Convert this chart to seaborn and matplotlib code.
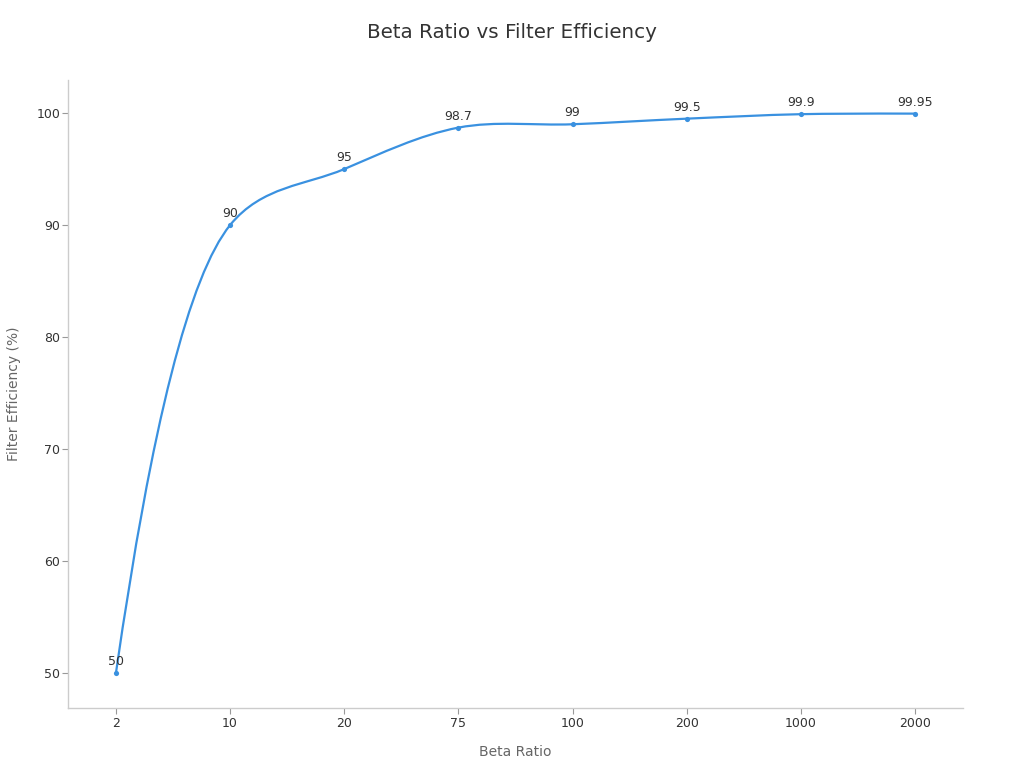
import numpy as np
import pandas as pd
import matplotlib
matplotlib.use("Agg")
import matplotlib.pyplot as plt
import seaborn as sns
from matplotlib.path import Path
from matplotlib.patches import PathPatch

categories = ["2", "10", "20", "75", "100", "200", "1000", "2000"]
efficiency = [50, 90, 95, 98.7, 99, 99.5, 99.9, 99.95]
labels = ["50", "90", "95", "98.7", "99", "99.5", "99.9", "99.95"]
y_ticks = [50, 60, 70, 80, 90, 100]

sns.set_theme(style="white")
plt.rcParams["font.family"] = ["DejaVu Sans"]

LINE = "#3a91e0"
fig = plt.figure(figsize=(10.24, 7.68), dpi=100)
ax = fig.add_axes([0.0664, 0.0781, 0.874, 0.8177])

df = pd.DataFrame({"x": np.arange(len(categories)), "y": efficiency})
xlim = (-0.42, len(categories) - 1 + 0.42)
ylim = (46.875, 102.95)
ax.set_xlim(*xlim)
ax.set_ylim(*ylim)

# smooth curve: centripetal Catmull-Rom style spline computed in pixel space
W = 0.874 * 1024
H = 0.8177 * 768
sx = W / (xlim[1] - xlim[0])
sy = H / (ylim[1] - ylim[0])
pts = np.column_stack([df["x"].to_numpy() * sx, df["y"].to_numpy() * sy])


def tangent(p0, p1, p2, s=1.0):
    d1 = p0 - p1
    d2 = p2 - p1
    d1a = np.hypot(*d1) ** 0.5
    d2a = np.hypot(*d2) ** 0.5
    num = (d2a * d2a * d1 - d1a * d1a * d2) * s
    den1 = 3 * d2a * (d1a + d2a)
    den2 = 3 * d1a * (d1a + d2a)
    return p1 + num / den1, p1 - num / den2


n = len(pts)
tans = [tangent(pts[i - 1], pts[i], pts[i + 1]) for i in range(1, n - 1)]
verts = [tuple(pts[0])]
codes = [Path.MOVETO]
verts += [tuple(tans[0][0]), tuple(pts[1])]
codes += [Path.CURVE3] * 2
for i in range(2, n - 1):
    verts += [tuple(tans[i - 2][1]), tuple(tans[i - 1][0]), tuple(pts[i])]
    codes += [Path.CURVE4] * 3
verts += [tuple(tans[n - 3][1]), tuple(pts[n - 1])]
codes += [Path.CURVE3] * 2
verts = [(a / sx, b / sy) for a, b in verts]
ax.add_patch(PathPatch(Path(verts, codes), facecolor="none", edgecolor=LINE,
                       linewidth=1.6, capstyle="round", joinstyle="round", zorder=2))

sns.scatterplot(data=df, x="x", y="y", ax=ax, color=LINE, s=14,
                edgecolor=LINE, linewidth=0, zorder=3, legend=False)

for xi, yi, lab in zip(df["x"], df["y"], labels):
    ax.annotate(lab, (xi, yi), xytext=(0, 3.5), textcoords="offset points",
                ha="center", va="bottom", fontsize=9, color="#333333")

ax.set_xticks(df["x"])
ax.set_xticklabels(categories)
ax.set_yticks(y_ticks)
ax.tick_params(axis="both", bottom=True, left=True, labelsize=9,
               labelcolor="#333333", color="#999999",
               length=4, width=0.8, direction="out")
ax.tick_params(axis="x", pad=2.5)
ax.tick_params(axis="y", pad=1.5)
for s in ["top", "right"]:
    ax.spines[s].set_visible(False)
for s in ["left", "bottom"]:
    ax.spines[s].set_color("#cccccc")
    ax.spines[s].set_linewidth(1.0)
ax.grid(False)

ax.set_xlabel("Beta Ratio", fontsize=10, color="#666666", labelpad=10.5)
ax.set_ylabel("Filter Efficiency (%)", fontsize=10, color="#666666", labelpad=11)
fig.text(0.5, 1 - 33 / 768, "Beta Ratio vs Filter Efficiency", ha="center", va="center",
         fontsize=14.3, color="#333333")

fig.savefig("out.png", dpi=100)
